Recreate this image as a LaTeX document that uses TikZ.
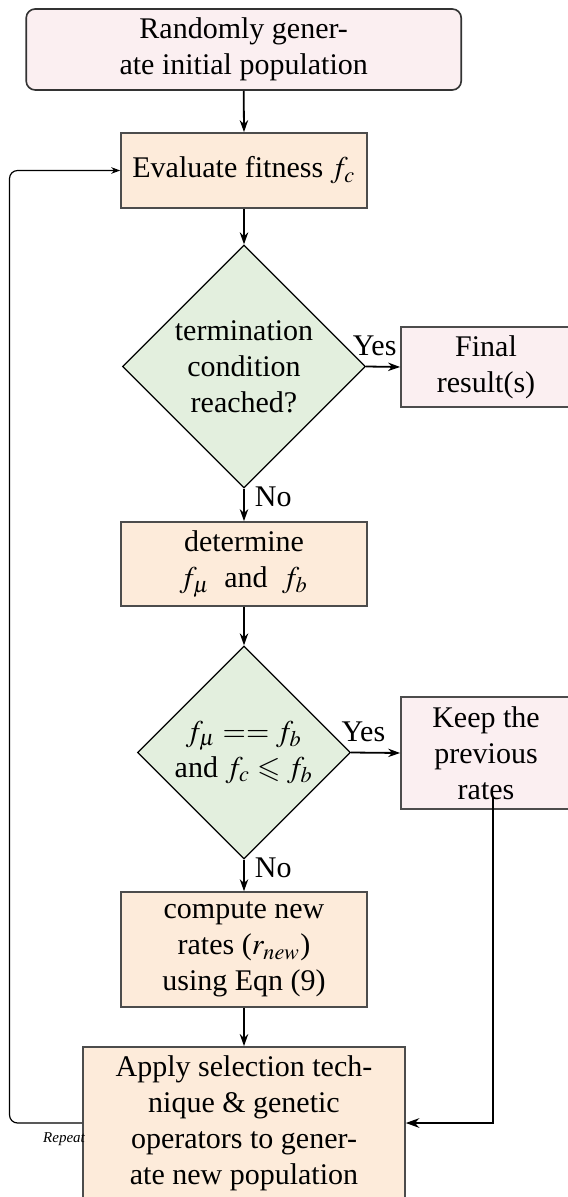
\documentclass[tikz,border=0pt]{standalone}
\usepackage{mathptmx}
\usepackage{amssymb}
\usepackage{fontspec}
\setmainfont{Liberation Serif}
\usetikzlibrary{shapes.geometric,arrows.meta}
\definecolor{boxpink}{RGB}{251,239,241}
\definecolor{boxorange}{RGB}{253,235,218}
\definecolor{boxgreen}{RGB}{227,239,222}
\tikzset{
  stepbox/.style={rectangle, draw=black!70, line width=0.55pt, fill=boxorange, inner sep=0pt, align=center, minimum width=82pt},
  endbox/.style={rectangle, draw=black!70, line width=0.55pt, fill=boxpink, inner sep=0pt, align=center, minimum width=56.7pt},
  decbox/.style={diamond, draw=black, line width=0.4pt, fill=boxgreen, inner sep=0pt, align=center, aspect=1},
  flow/.style={-{Stealth[length=4pt,width=2.8pt]}, line width=0.6pt},
  loopline/.style={-{Stealth[length=3pt,width=2.2pt]}, line width=0.4pt, rounded corners=2.7pt},
  keepline/.style={-{Stealth[length=4.5pt,width=3.2pt]}, line width=0.8pt},
  lab/.style={font=\normalsize, inner sep=3.33pt}
}
\begin{document}
\begin{tikzpicture}[x=0.33333pt, y=-0.33333pt]
\clip (0,0) rectangle (568,1197);
\node[rectangle, rounded corners=3pt, draw=black!80, line width=0.55pt, fill=boxpink, inner sep=0pt, align=center, minimum width=145pt, minimum height=27pt] (start) at (243.7,49.5) {Randomly gener-\\ate initial population};
\node[stepbox, minimum height=25pt] (eval) at (244,170.5) {Evaluate fitness $f_c$};
\node[decbox, minimum width=81pt, minimum height=81pt] (dia1) at (244,366.5) {termination\\condition\\reached?};
\node[endbox, minimum height=26.7pt] (final) at (486,367) {Final\\result(s)};
\node[stepbox, minimum height=28pt] (det) at (244,564) {determine\\$f_\mu$\hspace{4.8pt}and\hspace{4.8pt}$f_b$};
\node[decbox, minimum width=71pt, minimum height=71pt] (dia2) at (244,752.5) {$f_\mu == f_b$\\and $f_c \leqslant f_b$};
\node[endbox, minimum height=37.3pt] (keep) at (486,753) {Keep the\\previous\\rates};
\node[stepbox, minimum height=38.3pt] (comp) at (244,949.5) {compute new\\rates ($r_{new}$)\\using Eqn (9)};
\node[stepbox, minimum width=107.3pt, minimum height=50.7pt] (apply) at (244,1123) {Apply selection tech-\\nique \& genetic\\operators to gener-\\ate new population};

\draw[flow] (start.south) -- (eval.north);
\draw[flow] (eval.south) -- (dia1.north);
\draw[flow] (dia1.east) -- node[lab, near start, above] {Yes} (final.west);
\draw[flow] (dia1.south) -- node[lab, near start, right] {No} (det.north);
\draw[flow] (det.south) -- (dia2.north);
\draw[flow] (dia2.east) -- node[lab, near start, above] {Yes} (keep.west);
\draw[flow] (dia2.south) -- node[lab, near start, right] {No} (comp.north);
\draw[flow] (comp.south) -- (apply.north);

\coordinate (loopx) at (9.5,1123);
\draw[loopline] (apply.west) -- (loopx) |- (eval.west);
\node[font=\tiny\itshape, inner sep=0pt] (rep) at (64,1139) {Repeat};

\coordinate (ks) at (493,797);
\draw[keepline] (ks) |- (apply.east);
\end{tikzpicture}
\end{document}
